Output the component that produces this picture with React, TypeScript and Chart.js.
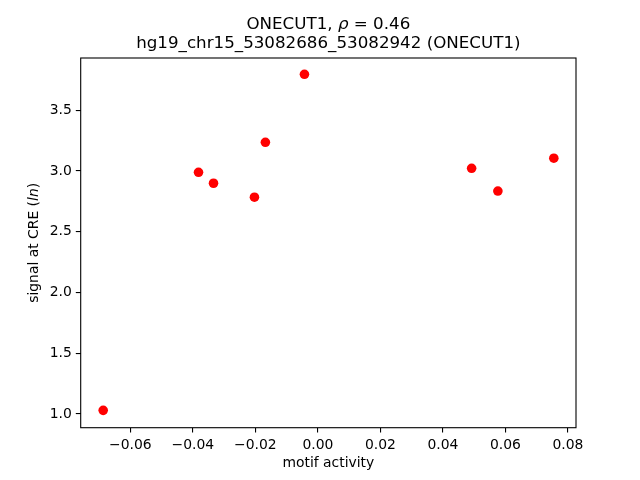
import React, { useEffect, useRef } from "react";
import { Chart, registerables } from "chart.js";

Chart.register(...registerables);

const xValues = [-0.0687, -0.0382, -0.0334, -0.0203, -0.0168, -0.0043, 0.0492, 0.0576, 0.0755];
const yValues = [1.03, 2.989, 2.899, 2.784, 3.236, 3.796, 3.022, 2.835, 3.105];
const xTicks = [-0.06, -0.04, -0.02, 0.0, 0.02, 0.04, 0.06, 0.08];
const yTicks = [1.0, 1.5, 2.0, 2.5, 3.0, 3.5];
const titleGene = "ONECUT1";
const titleRho = "0.46";
const titleLine2 = "hg19_chr15_53082686_53082942 (ONECUT1)";
const xLabel = "motif activity";

const FONT = "'DejaVu Sans', sans-serif";

function drawMixed(ctx: CanvasRenderingContext2D, parts: { t: string; it?: boolean }[], size: number, cx: number, cy: number) {
  let total = 0;
  const widths = parts.map((p) => {
    ctx.font = `${p.it ? "italic " : ""}${size}px ${FONT}`;
    const w = ctx.measureText(p.t).width;
    total += w;
    return w;
  });
  let x = cx - total / 2;
  ctx.textAlign = "left";
  ctx.textBaseline = "alphabetic";
  parts.forEach((p, i) => {
    ctx.font = `${p.it ? "italic " : ""}${size}px ${FONT}`;
    ctx.fillText(p.t, x, cy);
    x += widths[i];
  });
}

const decorPlugin = {
  id: "decor",
  afterDraw(chart: any) {
    const ctx: CanvasRenderingContext2D = chart.ctx;
    const a = chart.chartArea;
    ctx.save();
    ctx.strokeStyle = "#000";
    ctx.lineWidth = 1.1;
    ctx.strokeRect(a.left, a.top, a.right - a.left, a.bottom - a.top);
    ctx.fillStyle = "#000";
    const cx = (a.left + a.right) / 2;
    drawMixed(ctx, [{ t: titleGene + ", " }, { t: "ρ", it: true }, { t: " = " + titleRho }], 16.7, cx, 29);
    drawMixed(ctx, [{ t: titleLine2 }], 16.7, cx, 48);
    drawMixed(ctx, [{ t: xLabel }], 13.9, cx, 467);
    ctx.translate(38, (a.top + a.bottom) / 2);
    ctx.rotate(-Math.PI / 2);
    drawMixed(ctx, [{ t: "signal at CRE (" }, { t: "ln", it: true }, { t: ")" }], 13.9, 0, 0);
    ctx.restore();
  },
};

export default function App() {
  const ref = useRef<HTMLCanvasElement>(null);
  useEffect(() => {
    document.body.style.margin = "0";
    const chart = new Chart(ref.current!, {
      type: "scatter",
      data: {
        datasets: [
          {
            data: xValues.map((x, i) => ({ x, y: yValues[i] })),
            backgroundColor: "#ff0000",
            borderWidth: 0,
            pointRadius: 4.8,
            pointHoverRadius: 4.8,
          },
        ],
      },
      options: {
        animation: false,
        responsive: false,
        events: [],
        layout: { padding: { top: 58, right: 64, left: 0, bottom: 0 } },
        plugins: { legend: { display: false }, tooltip: { enabled: false }, title: { display: false } },
        scales: {
          x: {
            type: "linear",
            min: -0.0759,
            max: 0.0826,
            border: { display: false },
            grid: { drawOnChartArea: false, drawTicks: true, tickLength: 4.9, color: "#000", lineWidth: 1.1 },
            ticks: {
              color: "#000",
              padding: 4,
              maxRotation: 0,
              font: { family: FONT, size: 13.9 },
              callback: (v: any) => Number(v).toFixed(2).replace("-", "\u2212"),
            },
            afterBuildTicks: (s: any) => {
              s.ticks = xTicks.map((value) => ({ value }));
            },
            afterFit: (s: any) => {
              s.height = 52.3;
            },
          },
          y: {
            type: "linear",
            min: 0.887,
            max: 3.93,
            border: { display: false },
            grid: { drawOnChartArea: false, drawTicks: true, tickLength: 4.9, color: "#000", lineWidth: 1.1 },
            ticks: {
              color: "#000",
              padding: 4,
              font: { family: FONT, size: 13.9 },
              callback: (v: any) => Number(v).toFixed(1),
            },
            afterBuildTicks: (s: any) => {
              s.ticks = yTicks.map((value) => ({ value }));
            },
            afterFit: (s: any) => {
              s.width = 80.7;
            },
          },
        },
      },
      plugins: [decorPlugin],
    });
    return () => chart.destroy();
  }, []);
  return (
    <div style={{ position: "absolute", left: 0, top: 0, width: 640, height: 480, background: "#fff" }}>
      <canvas ref={ref} width={640} height={480} style={{ width: 640, height: 480 }} />
    </div>
  );
}
